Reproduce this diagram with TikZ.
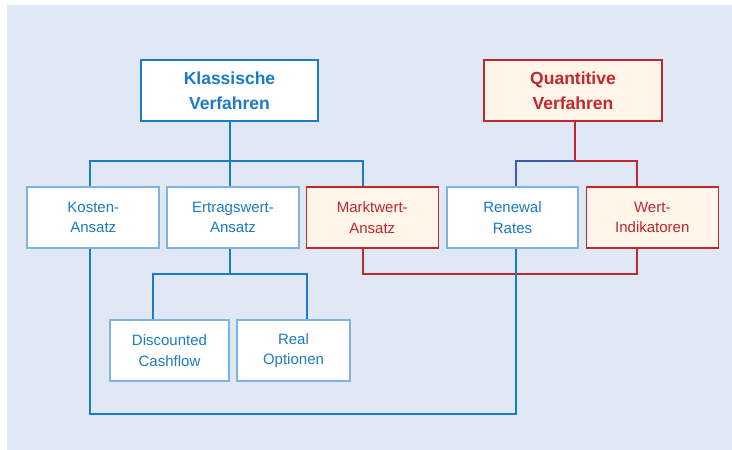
\documentclass[tikz,border=0pt]{standalone}
\usepackage{fontspec}
\setmainfont{Liberation Sans}
\definecolor{bg}{HTML}{E1E8F5}
\definecolor{cblue}{HTML}{1B7BC4}
\definecolor{lblue}{HTML}{80B3DE}
\definecolor{cred}{HTML}{C0272F}
\definecolor{cream}{HTML}{FFF5E8}
\definecolor{mixline}{HTML}{3A5FA8}
\begin{document}
\begin{tikzpicture}[x=1pt,y=-1pt,
  topblue/.style={draw=cblue,line width=2pt,fill=white,text=cblue,font=\fontsize{17.5}{24.5}\selectfont\bfseries,align=center,minimum width=177pt,minimum height=61pt,inner sep=0pt},
  topred/.style={draw=cred,line width=2pt,fill=cream,text=cred,font=\fontsize{17.5}{24.5}\selectfont\bfseries,align=center,minimum width=178pt,minimum height=61pt,inner sep=0pt},
  bluebox/.style={draw=lblue,line width=2pt,fill=white,text=cblue,font=\fontsize{15}{20.5}\selectfont,align=center,minimum height=61pt,inner sep=0pt},
  redbox/.style={draw=cred,line width=1.5pt,fill=cream,text=cred,font=\fontsize{15}{20.5}\selectfont,align=center,minimum height=61pt,inner sep=0pt},
  bline/.style={draw=cblue,line width=2pt},
  rline/.style={draw=cred,line width=2pt}
]
\useasboundingbox (0,0) rectangle (732,450);
\fill[bg] (7,5) rectangle (732,450);

\node[topblue] (klass) at (229.5,90.5) {Klassische\\Verfahren};
\node[topred] (quant) at (573,90.5) {Quantitive\\Verfahren};

\node[bluebox,minimum width=132pt] (kosten) at (93.3,217.5) {Kosten-\\Ansatz};
\node[bluebox,minimum width=132pt] (ertrag) at (233,217.5) {Ertragswert-\\Ansatz};
\node[redbox,minimum width=132pt] (markt) at (372.3,217.5) {Marktwert-\\Ansatz};
\node[bluebox,minimum width=131pt] (renewal) at (512.5,217.5) {Renewal\\Rates};
\node[redbox,minimum width=132pt] (wert) at (652.3,217.5) {Wert-\\Indikatoren};

\node[bluebox,minimum width=119pt] (disc) at (169.5,350.8) {Discounted\\Cashflow};
\node[bluebox,minimum width=113pt] (real) at (293.5,350.8) {Real\\Optionen};

\coordinate (xk) at (90,0);
\coordinate (xe) at (230,0);
\coordinate (xm) at (363,0);
\coordinate (xr) at (516,0);
\coordinate (xq) at (575,0);
\coordinate (xw) at (637,0);
\coordinate (xd) at (153.3,0);
\coordinate (xo) at (306.7,0);

% Klassische tree
\draw[bline] (klass.south -| xe) -- (xe |- 0,160.7) coordinate (kj);
\draw[bline,line join=miter] (kosten.north -| xk) |- (kj) -| (markt.north -| xm);
\draw[bline] (kj) -- (ertrag.north -| xe);
% Ertragswert subtree
\draw[bline] (ertrag.south -| xe) -- (xe |- 0,274.3) coordinate (ej);
\draw[bline] (disc.north -| xd) |- (ej) -| (real.north -| xo);
% Quantitive tree
\draw[rline] (quant.south -| xq) -- (xq |- 0,160.7) coordinate (qj);
\draw[draw=mixline,line width=2pt] (renewal.north -| xr) |- (qj);
\draw[rline] (qj) -| (wert.north -| xw);
% Red link Marktwert - Wert
\draw[rline] (markt.south -| xm) |- (xw |- 0,274) -- (wert.south -| xw);
% Blue loop Kosten - Renewal
\draw[bline] (kosten.south -| xk) |- (xr |- 0,414) -- (renewal.south -| xr);
\end{tikzpicture}
\end{document}
